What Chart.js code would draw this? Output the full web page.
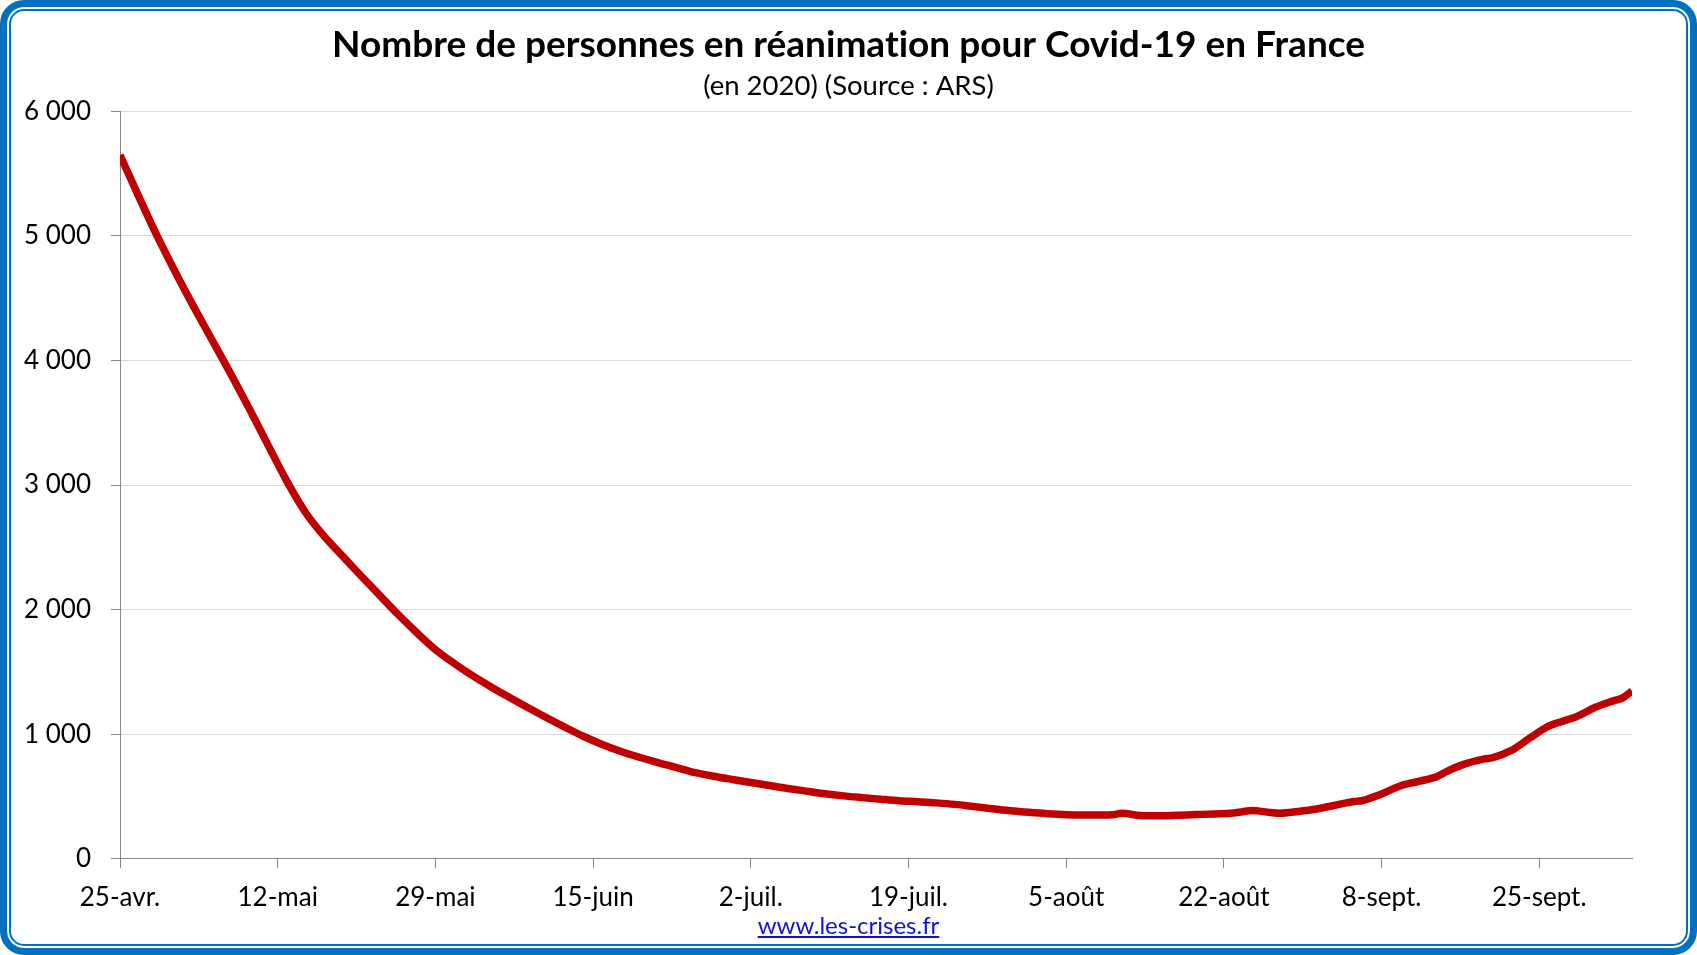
<!DOCTYPE HTML>
<html>
<head>
    <meta charset="utf-8">
    <script src="https://cdn.jsdelivr.net/npm/chart.js"></script>
</head>
<body>
<style>
    * {
        margin: 0;
        padding: 0;
        box-sizing: border-box;
    }
    body {
        background: #ffffff;
        width: 1697px;
        height: 955px;
        overflow: hidden;
        position: relative;
    }
    #myChart {
        position: absolute;
        left: 0;
        top: 0;
    }
    .frame {
        position: absolute;
        left: 0;
        top: 0;
        width: 1697px;
        height: 955px;
        border: 7px solid #0070C0;
        border-radius: 24px;
        box-shadow: inset 0 0 0 2px #ffffff, inset 0 0 0 4px #0070C0;
        pointer-events: none;
    }
    .source {
        position: absolute;
        left: 0;
        width: 1697px;
        top: 910px;
        text-align: center;
        font-family: Lato, sans-serif;
        font-size: 24px;
    }
    .source a {
        color: #1010d8;
        text-decoration: underline;
    }
</style>
<canvas id="myChart" width="1697" height="955"></canvas>
<div class="frame"></div>
<div class="source"><a href="#">www.les-crises.fr</a></div>
<script>
    // jours depuis le 25 avril 2020
    const days = [0, 2, 4, 6, 8, 10, 12, 14, 16, 18, 20, 22, 24, 26, 28, 30, 32, 34, 36, 38, 40,
        42, 44, 46, 48, 50, 52, 54, 56, 58, 60, 62, 64, 66, 68, 70, 72, 74, 76, 78, 80,
        82, 84, 86, 88, 90, 92, 94, 96, 98, 100, 102, 104, 106, 107, 108, 110, 112, 114, 116, 118,
        120, 121, 122, 124, 125, 127, 129, 131, 133, 134, 136, 138, 140, 142, 143, 145, 147, 148,
        150, 152, 154, 156, 157, 159, 161, 162, 163];
    const reanimation = [5650, 5320, 5000, 4705, 4425, 4155, 3885, 3605, 3315, 3030, 2780, 2590, 2430, 2270, 2115, 1960, 1815, 1680, 1570, 1470, 1380,
        1295, 1212, 1132, 1055, 982, 918, 862, 815, 772, 732, 692, 663, 637, 612, 588, 565, 543, 522, 505, 491,
        478, 466, 458, 449, 437, 420, 402, 386, 373, 362, 354, 351, 351, 354, 365, 348, 345, 350, 355, 360,
        367, 378, 388, 372, 366, 380, 400, 430, 460, 468, 520, 585, 622, 660, 700, 762, 800, 812,
        870, 970, 1065, 1115, 1140, 1215, 1268, 1292, 1348];
    const xTickLabels = ['25-avr.', '12-mai', '29-mai', '15-juin', '2-juil.', '19-juil.', '5-août', '22-août', '8-sept.', '25-sept.'];
    const yTickLabels = ['0', '1\u00a0000', '2\u00a0000', '3\u00a0000', '4\u00a0000', '5\u00a0000', '6\u00a0000'];

    // pas de ligature "ti" dans le titre
    const noLigatures = {
        id: 'noLigatures',
        beforeDraw: chart => { chart.ctx.textRendering = 'optimizeSpeed'; }
    };

    const ctx = document.getElementById('myChart');
    new Chart(ctx, {
        type: 'line',
        data: {
            datasets: [{
                data: days.map((d, i) => ({x: d, y: reanimation[i]})),
                borderColor: '#C00000',
                borderWidth: 7.5,
                pointRadius: 0,
                cubicInterpolationMode: 'monotone',
                borderCapStyle: 'butt'
            }]
        },
        plugins: [noLigatures],
        options: {
            responsive: false,
            animation: false,
            layout: {
                padding: {left: 0, right: 0, top: 0, bottom: 28}
            },
            plugins: {
                legend: {display: false},
                tooltip: {enabled: false},
                title: {
                    display: true,
                    text: 'Nombre de personnes en réanimation pour Covid-19 en France',
                    color: '#000',
                    font: {family: 'Lato', size: 37, weight: 'bold'},
                    padding: {top: 23, bottom: 0}
                },
                subtitle: {
                    display: true,
                    text: '(en 2020) (Source : ARS)',
                    color: '#000',
                    font: {family: 'Lato', size: 27.5},
                    padding: {top: 2, bottom: 9}
                }
            },
            scales: {
                x: {
                    type: 'linear',
                    min: 0,
                    max: 163,
                    grid: {drawOnChartArea: false, tickLength: 9, tickColor: '#868686'},
                    border: {color: '#868686'},
                    ticks: {
                        stepSize: 17,
                        includeBounds: false,
                        maxRotation: 0,
                        autoSkip: false,
                        padding: 14,
                        color: '#000',
                        font: {family: 'Lato', size: 26},
                        callback: v => xTickLabels[Math.round(v / 17)]
                    }
                },
                y: {
                    min: 0,
                    max: 6000,
                    afterFit: s => { s.width = 120; },
                    grid: {color: '#D9D9D9', tickLength: 9, tickColor: '#868686'},
                    border: {color: '#868686'},
                    ticks: {
                        stepSize: 1000,
                        padding: 20,
                        color: '#000',
                        font: {family: 'Lato', size: 26},
                        callback: v => yTickLabels[Math.round(v / 1000)]
                    }
                },
                // marge droite vide, pour garder le titre centré sur la page
                yRight: {
                    type: 'linear',
                    position: 'right',
                    afterFit: s => { s.width = 65; },
                    grid: {display: false},
                    border: {display: false},
                    ticks: {display: false}
                }
            }
        }
    });
</script>
</body>
</html>
